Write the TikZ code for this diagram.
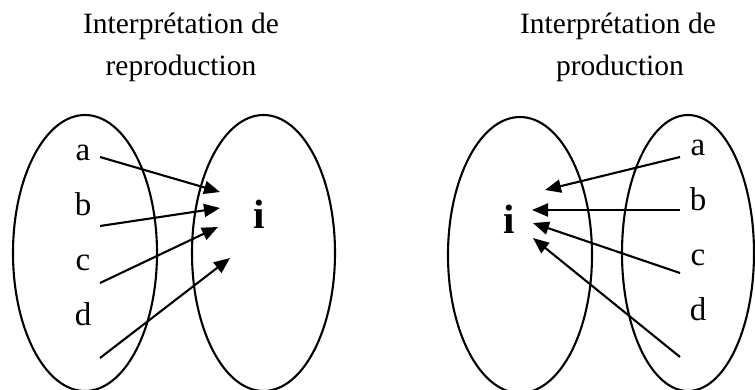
\documentclass[tikz,border=0pt]{standalone}
\usepackage{fontspec}
\setmainfont{Liberation Serif}
\usetikzlibrary{arrows.meta}
\begin{document}
\begin{tikzpicture}[x=1pt,y=-1pt,
  ell/.style={draw, line width=2.1pt},
  ttl/.style={anchor=base, inner sep=0pt, font=\fontsize{29.5}{34}\selectfont},
  lbl/.style={anchor=base, inner sep=0pt, font=\fontsize{33}{38}\selectfont},
  img/.style={anchor=base, inner sep=0pt, font=\fontsize{41}{46}\selectfont\bfseries},
  arr/.style={line width=2.1pt, -{Triangle[length=16pt,width=13pt]}}]
\useasboundingbox (0,0) rectangle (755,389);
% titles
\node[ttl] (t1a) at (181,33) {Interprétation de};
\node[ttl] (t1b) at (181,75) {reproduction};
\node[ttl] (t2a) at (618,33) {Interprétation de};
\node[ttl] (t2b) at (620,75) {production};
% ellipses
\draw[ell] (85,253) ellipse [x radius=72pt, y radius=138pt];
\draw[ell] (263.5,253) ellipse [x radius=71.5pt, y radius=138pt];
\draw[ell] (520,255) ellipse [x radius=72pt, y radius=138pt];
\draw[ell] (688,253) ellipse [x radius=66pt, y radius=138pt];
% left diagram labels
\node[lbl] (la) at (83,160) {a};
\node[lbl] (lb) at (83,215) {b};
\node[lbl] (lc) at (83,270) {c};
\node[lbl] (ld) at (83,325) {d};
\node[img] (li) at (259,228) {i};
% right diagram labels
\node[lbl] (ra) at (698,155) {a};
\node[lbl] (rb) at (698,210) {b};
\node[lbl] (rc) at (698,265) {c};
\node[lbl] (rd) at (698,320) {d};
\node[img] (ri) at (509,233) {i};
% arrow ends
\coordinate (lsa) at (100,157); \coordinate (lea) at (220,192);
\coordinate (lsb) at (100,226); \coordinate (leb) at (220,208);
\coordinate (lsc) at (100,283); \coordinate (lec) at (218,227);
\coordinate (lsd) at (100,358); \coordinate (led) at (230,258);
\coordinate (rsa) at (680,157); \coordinate (rea) at (545,190);
\coordinate (rsb) at (680,210); \coordinate (reb) at (532,210);
\coordinate (rsc) at (680,273); \coordinate (rec) at (533,223);
\coordinate (rsd) at (680,357); \coordinate (red) at (533,238);
\draw[arr] (lsa) -- (lea);
\draw[arr] (lsb) -- (leb);
\draw[arr] (lsc) -- (lec);
\draw[arr] (lsd) -- (led);
\draw[arr] (rsa) -- (rea);
\draw[arr] (rsb) -- (reb);
\draw[arr] (rsc) -- (rec);
\draw[arr] (rsd) -- (red);
\end{tikzpicture}
\end{document}
